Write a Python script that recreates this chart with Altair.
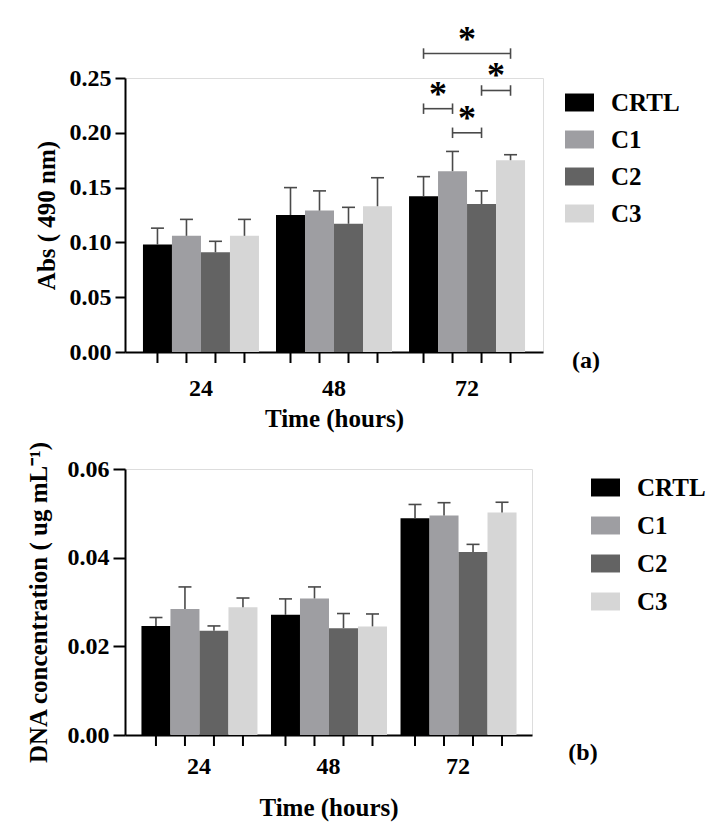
import altair as alt
import pandas as pd

# ---------------- data ----------------
times = ["24", "48", "72"]
groups = ["CRTL", "C1", "C2", "C3"]
colors = ["#000000", "#9e9ea2", "#636363", "#d6d6d6"]

# Panel (a): Abs (490 nm), mean and SD per group at 24/48/72 h
abs_crtl = [0.098, 0.125, 0.142]
abs_c1 = [0.106, 0.129, 0.165]
abs_c2 = [0.091, 0.117, 0.135]
abs_c3 = [0.106, 0.133, 0.175]
abs_sd_crtl = [0.015, 0.025, 0.018]
abs_sd_c1 = [0.015, 0.018, 0.018]
abs_sd_c2 = [0.010, 0.015, 0.012]
abs_sd_c3 = [0.015, 0.026, 0.005]

# Panel (b): DNA concentration (ug mL-1)
dna_crtl = [0.0246, 0.0271, 0.0489]
dna_c1 = [0.0284, 0.0308, 0.0495]
dna_c2 = [0.0235, 0.0241, 0.0413]
dna_c3 = [0.0288, 0.0245, 0.0502]
dna_sd_crtl = [0.0019, 0.0036, 0.0031]
dna_sd_c1 = [0.0050, 0.0026, 0.0029]
dna_sd_c2 = [0.0011, 0.0033, 0.0017]
dna_sd_c3 = [0.0021, 0.0028, 0.0023]

# Significance brackets in panel (a), all at 72 h
sig_time = "72"
sig_from = ["CRTL", "C1", "C2", "CRTL"]
sig_to = ["C1", "C2", "C3", "C3"]
sig_level = [0.222, 0.200, 0.2386, 0.2723]
sig_span = [1, 1, 1, 3]

FONT = "Liberation Serif"


def long_df(means, sds):
    rows = []
    for g, m, s in zip(groups, means, sds):
        for t, mv, sv in zip(times, m, s):
            rows.append({"time": t, "group": g, "mean": mv, "upper": mv + sv})
    return pd.DataFrame(rows)


def make_panel(df, ytitle, ydomain, yvalues, yfmt, width, height, pin, pout,
               legx, legy, rowpad, ytick, ylabpad, ytitlepad, xlabpad, xtitlepad,
               tag, tagx, tagy, brackets=None):
    yscale = alt.Scale(domain=ydomain, nice=False)
    yaxis = alt.Axis(values=yvalues, format=yfmt, grid=False, tickSize=ytick,
                     tickWidth=2, tickColor="black", domainWidth=2, domainColor="black",
                     labelFont=FONT, labelFontSize=24, labelFontWeight="bold",
                     labelColor="black", labelPadding=ylabpad,
                     titleFont=FONT, titleFontSize=25, titleFontWeight="bold",
                     titleColor="black", titlePadding=ytitlepad)

    def Y(field):
        return alt.Y(field, type="quantitative", scale=yscale, axis=yaxis, title=ytitle)

    X = alt.X("time:N", sort=times,
              scale=alt.Scale(domain=times, paddingInner=pin, paddingOuter=pout),
              axis=alt.Axis(title="Time (hours)", ticks=False, tickSize=0, labelAngle=0,
                            domainWidth=2, domainColor="black",
                            labelFont=FONT, labelFontSize=24, labelFontWeight="bold",
                            labelColor="black", labelPadding=xlabpad,
                            titleFont=FONT, titleFontSize=25, titleFontWeight="bold",
                            titleColor="black", titlePadding=xtitlepad))
    XO = alt.XOffset("group:N", sort=groups,
                     scale=alt.Scale(domain=groups, paddingInner=0, paddingOuter=0))

    base = alt.Chart(df)
    bars = base.mark_bar().encode(
        x=X, xOffset=XO, y=Y("mean"),
        color=alt.Color("group:N", sort=groups,
                        scale=alt.Scale(domain=groups, range=colors),
                        legend=alt.Legend(orient="none", legendX=legx, legendY=legy,
                                          title=None,
                                          symbolType="M-1,-0.62L1,-0.62L1,0.62L-1,0.62Z",
                                          symbolSize=841, symbolStrokeWidth=0,
                                          symbolOpacity=1,
                                          labelFont=FONT, labelFontSize=25,
                                          labelFontWeight="bold", labelColor="black",
                                          rowPadding=rowpad, labelOffset=17)),
    )
    err = base.mark_rule(color="#4a4a4a", strokeWidth=1.6).encode(
        x=X, xOffset=XO, y=Y("mean"), y2="upper:Q")
    caps = base.mark_point(shape="M-1,0L1,0", size=169, filled=False,
                           stroke="#4a4a4a", strokeWidth=1.6, opacity=1).encode(
        x=X, xOffset=XO, y=Y("upper"))
    xticks = base.mark_rule(color="black", strokeWidth=2).encode(
        x=X, xOffset=XO, y=alt.value(height), y2=alt.value(height + 11))
    tagm = alt.Chart(pd.DataFrame({"label": [tag]})).mark_text(
        font=FONT, fontSize=24, fontWeight="bold", color="black",
        align="center", baseline="middle").encode(
        text="label:N", x=alt.value(tagx), y=alt.value(tagy))

    layers = [bars, err, caps, xticks]

    if brackets is not None:
        rows = []
        for i, (a, b, lv, sp) in enumerate(zip(*brackets)):
            rows.append({"id": i, "time": sig_time, "group": a, "level": lv, "span": sp, "end": 0})
            rows.append({"id": i, "time": sig_time, "group": b, "level": lv, "span": sp, "end": 1})
        bdf = pd.DataFrame(rows)
        bch = alt.Chart(bdf)
        blines = bch.mark_line(color="#4a4a4a", strokeWidth=1.6).encode(
            x=X, xOffset=XO, y=Y("level"), detail="id:N", order="end:Q")
        bcaps = bch.mark_point(shape="M0,-1L0,1", size=110, filled=False,
                               stroke="#4a4a4a", strokeWidth=1.6, opacity=1).encode(
            x=X, xOffset=XO, y=Y("level"))
        sdf = bch.transform_filter("datum.end == 0")
        star1 = sdf.transform_filter("datum.span == 1").mark_text(
            text="*", font=FONT, fontSize=36, fontWeight="bold", color="black",
            dx=14.5, dy=-14, baseline="middle").encode(
            x=X, xOffset=XO, y=Y("level"))
        star3 = sdf.transform_filter("datum.span == 3").mark_text(
            text="*", font=FONT, fontSize=36, fontWeight="bold", color="black",
            dx=43.5, dy=-14, baseline="middle").encode(
            x=X, xOffset=XO, y=Y("level"))
        layers += [blines, bcaps, star1, star3]

    layers.append(tagm)
    return alt.layer(*layers).properties(width=width, height=height)


df_a = long_df([abs_crtl, abs_c1, abs_c2, abs_c3],
               [abs_sd_crtl, abs_sd_c1, abs_sd_c2, abs_sd_c3])
df_b = long_df([dna_crtl, dna_c1, dna_c2, dna_c3],
               [dna_sd_crtl, dna_sd_c1, dna_sd_c2, dna_sd_c3])

panel_a = make_panel(df_a, "Abs ( 490 nm)", [0, 0.25],
                     [0, 0.05, 0.10, 0.15, 0.20, 0.25], ".2f",
                     418, 274, 0.128, 0.135,
                     440, 10, 9, 10, 4, 10, 24, 6,
                     "(a)", 461, 283,
                     brackets=(sig_from, sig_to, sig_level, sig_span))
panel_b = make_panel(df_b, "DNA concentration ( ug mL⁻¹)", [0, 0.06],
                     [0, 0.02, 0.04, 0.06], ".2f",
                     407, 266, 0.112, 0.127,
                     466, 4, 10, 12, 4, 16, 19, 17,
                     "(b)", 458, 284)

chart = alt.vconcat(panel_a, panel_b, spacing=8).resolve_scale(
    color="independent").resolve_legend(color="independent").properties(
    padding={"left": 17, "top": 13, "right": 5, "bottom": 5}).configure_view(
    stroke=None).configure(background="white")

chart.save("out.html", embed_options={"renderer": "svg", "actions": False})
